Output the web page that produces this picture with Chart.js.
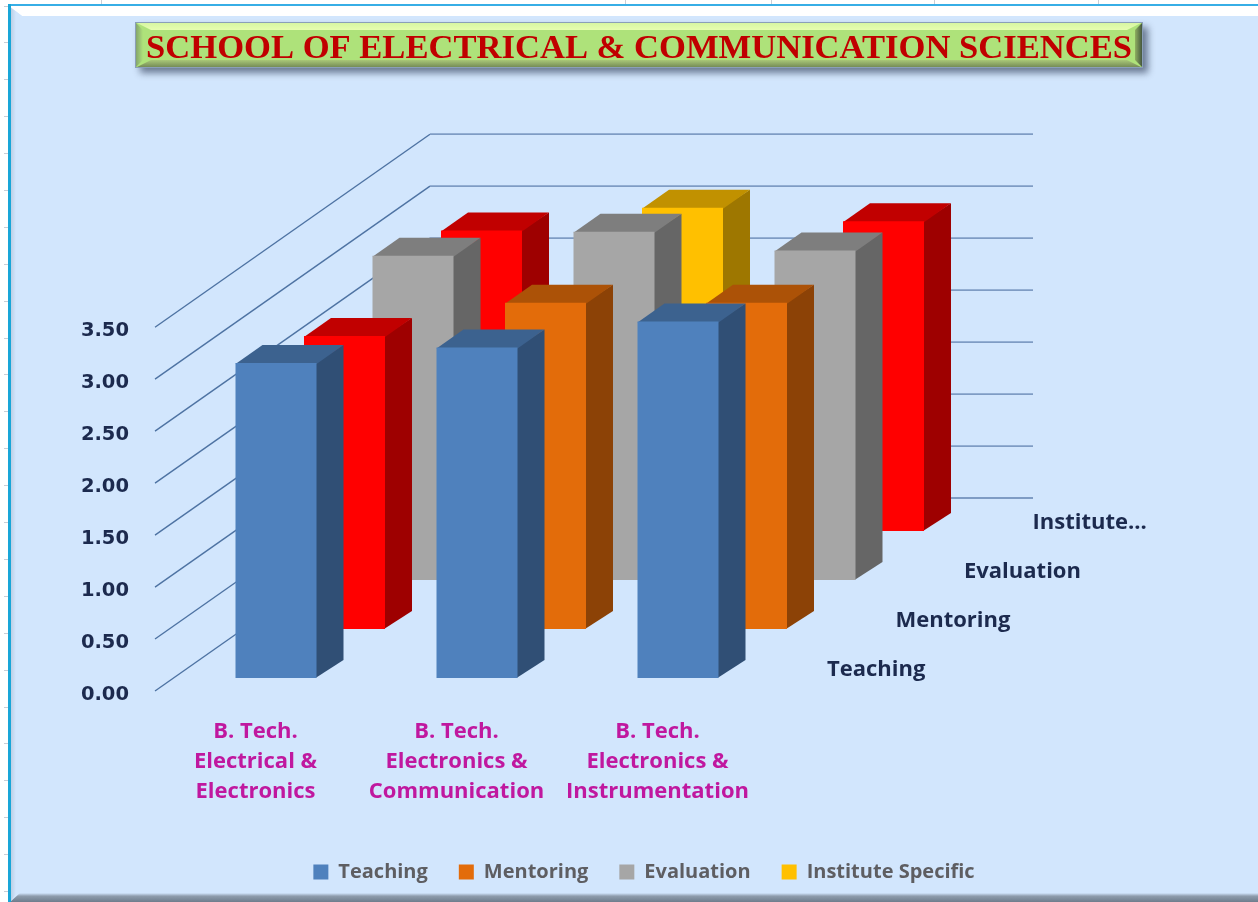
<!DOCTYPE html>
<html>
<head>
<meta charset="utf-8">
<style>html,body{margin:0;padding:0;background:#fff}canvas{display:block}</style>
<script src="https://cdn.jsdelivr.net/npm/chart.js@4/dist/chart.umd.min.js"></script>
</head>
<body>
<canvas id="c" width="1258" height="902"></canvas>
<script>
const chartTitle = 'SCHOOL OF ELECTRICAL & COMMUNICATION SCIENCES';
const categories = [['B. Tech.','Electrical &','Electronics'],['B. Tech.','Electronics &','Communication'],['B. Tech.','Electronics &','Instrumentation']];
const seriesNames = ['Teaching','Mentoring','Evaluation','Institute Specific'];
const depthLabels = ['Teaching','Mentoring','Evaluation','Institute...'];
const teaching   = [3.03,3.18,3.43];
const mentoring  = [2.82,3.14,3.14];
const evaluation = [3.12,3.35,3.17];
const institute  = [2.89,3.11,2.98];
const legendColors = ['#4F81BD','#E36C0A','#A6A6A6','#FFC000'];
const teachingColors   = ['#4F81BD','#4F81BD','#4F81BD'];
const mentoringColors  = ['#FF0000','#E36C0A','#E36C0A'];
const evaluationColors = ['#A6A6A6','#A6A6A6','#A6A6A6'];
const instituteColors  = ['#FF0000','#FFC000','#FF0000'];

const FLOOR = {frontX:20.5, frontY:-13, rowX:68.5, rowY:-49, faceX:27, faceY:-18, backX:275, backY:-193};
const axisInk = '#1C2A4E';

function shade(hex,f){
  const n=parseInt(hex.slice(1),16);
  return `rgb(${((n>>16)&255)*f|0},${((n>>8)&255)*f|0},${(n&255)*f|0})`;
}
function rowOffset(r){return [FLOOR.frontX+r*FLOOR.rowX, FLOOR.frontY+r*FLOOR.rowY];}

const decor = {
  id:'decor',
  afterLayout(chart){chart.legend.left+=5;chart.legend.right+=5;},
  beforeDraw(chart){
    const c=chart.ctx,W=chart.width,H=chart.height;
    c.save();
    c.fillStyle='#fff';c.fillRect(0,0,W,H);
    c.fillStyle='#C9CED6';
    for(const x of [101,625,771,934,1098])c.fillRect(x,0,1,4);
    for(let y=5.5;y<H;y+=36.9)c.fillRect(4,Math.round(y),4,1);
    c.fillStyle='#D2E6FD';c.fillRect(9,5,W-9,H-5);
    // top bevel
    c.fillStyle='#FFFFFF';
    c.beginPath();c.moveTo(9,6);c.lineTo(W,6);c.lineTo(W,16);c.lineTo(22,16);c.closePath();c.fill();
    // left bevel
    let g=c.createLinearGradient(10,0,16,0);g.addColorStop(0,'#B9CBE0');g.addColorStop(1,'#D2E6FD');
    c.fillStyle=g;c.beginPath();c.moveTo(10,7);c.lineTo(22,16);c.lineTo(16,H-8);c.lineTo(10,H);c.closePath();c.fill();
    // bottom bevel
    g=c.createLinearGradient(0,893,0,902);g.addColorStop(0,'#D2E6FD');g.addColorStop(0.35,'#8E9CAC');g.addColorStop(1,'#6E7C8C');
    c.fillStyle=g;c.beginPath();c.moveTo(10,902);c.lineTo(20,893);c.lineTo(W,893);c.lineTo(W,902);c.closePath();c.fill();
    // border
    c.fillStyle='#37AEE6';c.fillRect(8,4,W-8,2);
    c.fillStyle='#19A6D8';c.fillRect(8,4,3,H-4);
    // title plate
    const x=135,y=22,w=1008,h=46,b=8;
    c.save();c.shadowColor='rgba(50,65,90,.65)';c.shadowBlur=7;c.shadowOffsetX=5;c.shadowOffsetY=5;
    c.fillStyle='#AEE27A';c.fillRect(x,y,w,h);c.restore();
    c.fillStyle='#AEE27A';c.fillRect(x,y,w,h);
    const face=(pts,col)=>{c.fillStyle=col;c.beginPath();pts.forEach((p,i)=>i?c.lineTo(p[0],p[1]):c.moveTo(p[0],p[1]));c.closePath();c.fill();};
    g=c.createLinearGradient(0,y,0,y+b);g.addColorStop(0,'#D5F5A0');g.addColorStop(1,'#E6FDB0');
    face([[x,y],[x+w,y],[x+w-b*2,y+b],[x+b*2,y+b]],g);
    g=c.createLinearGradient(0,y+h-b,0,y+h);g.addColorStop(0,'#A9C878');g.addColorStop(1,'#6E8452');
    face([[x,y+h],[x+w,y+h],[x+w-b*2,y+h-b],[x+b*2,y+h-b]],g);
    g=c.createLinearGradient(x,0,x+b,0);g.addColorStop(0,'#7F9C6A');g.addColorStop(1,'#AEE27A');
    face([[x,y],[x+b,y+b],[x+b,y+h-b],[x,y+h]],g);
    g=c.createLinearGradient(x+w-b,0,x+w,0);g.addColorStop(0,'#8FAF60');g.addColorStop(1,'#3B4A3A');
    face([[x+w,y],[x+w-b,y+b],[x+w-b,y+h-b],[x+w,y+h]],g);
    c.strokeStyle='#8A9FB8';c.lineWidth=1;c.strokeRect(x+.5,y+.5,w-1,h-1);
    c.restore();
  },
  beforeDatasetsDraw(chart){
    const c=chart.ctx,{x:xs,y:ys}=chart.scales,L=xs.left,R=xs.right;
    c.save();
    ys.ticks.forEach(t=>{
      const p=ys.getPixelForValue(t.value);
      c.strokeStyle='#4E73A3';c.lineWidth=1.4;
      c.beginPath();c.moveTo(L,p);c.lineTo(L+FLOOR.backX,p+FLOOR.backY);c.stroke();
      c.strokeStyle='#7F9CC4';c.lineWidth=1.8;
      c.beginPath();c.moveTo(L+FLOOR.backX,p+FLOOR.backY);c.lineTo(R+FLOOR.backX,p+FLOOR.backY);c.stroke();
    });
    c.restore();
  },
  beforeDatasetDraw(chart,args){
    const c=chart.ctx,[ox,oy]=rowOffset(args.index);
    c.save();c.translate(ox,oy);
    const colors=chart.data.datasets[args.index].backgroundColor;
    const fx=FLOOR.faceX,fy=FLOOR.faceY;
    args.meta.data.forEach((el,i)=>{
      const r=el.x+el.width/2,l=el.x-el.width/2,t=el.y,b=el.base;
      c.fillStyle=shade(colors[i],0.62);
      c.beginPath();c.moveTo(r-1,t);c.lineTo(r+fx,t+fy);c.lineTo(r+fx,b+fy);c.lineTo(r-1,b);c.closePath();c.fill();
      c.fillStyle=shade(colors[i],0.76);
      c.beginPath();c.moveTo(l,t+1);c.lineTo(l+fx,t+fy);c.lineTo(r+fx,t+fy);c.lineTo(r,t+1);c.closePath();c.fill();
    });
  },
  afterDatasetDraw(chart){chart.ctx.restore();},
  afterDatasetsDraw(chart){
    const c=chart.ctx,xs=chart.scales.x,ys=chart.scales.y;
    c.save();
    c.font='bold 22px "Open Sans"';c.fillStyle=axisInk;c.textAlign='left';c.textBaseline='middle';
    depthLabels.forEach((s,i)=>{
      c.fillText(s,xs.right+69+i*FLOOR.rowX,ys.getPixelForValue(0)-21+i*FLOOR.rowY);
    });
    c.restore();
  }
};

new Chart(document.getElementById('c'),{
  type:'bar',
  plugins:[decor],
  data:{
    labels:categories,
    datasets:[
      {label:seriesNames[0],data:teaching,backgroundColor:teachingColors},
      {label:seriesNames[1],data:mentoring,backgroundColor:mentoringColors},
      {label:seriesNames[2],data:evaluation,backgroundColor:evaluationColors},
      {label:seriesNames[3],data:institute,backgroundColor:instituteColors}
    ].map(d=>Object.assign(d,{grouped:false,clip:false,barPercentage:1,categoryPercentage:0.403,borderWidth:0}))
  },
  options:{
    responsive:false,animation:false,
    layout:{padding:{left:20,right:0,top:0,bottom:10}},
    plugins:{
      tooltip:{enabled:false},
      title:{display:true,text:chartTitle,color:'#C00000',font:{family:'Liberation Serif',weight:'bold',size:34.6},padding:{top:28,bottom:257.7}},
      legend:{display:true,position:'bottom',labels:{
        boxWidth:15,boxHeight:15,padding:31,color:'#5E5E62',font:{family:'Open Sans',weight:'bold',size:20},
        generateLabels:()=>seriesNames.map((t,i)=>({text:t,fillStyle:legendColors[i],strokeStyle:legendColors[i],lineWidth:0,fontColor:'#5E5E62',datasetIndex:i}))
      }}
    },
    scales:{
      x:{
        grid:{display:false},border:{display:false},
        ticks:{color:'#C0189F',font:{family:'Open Sans',weight:'bold',size:22,lineHeight:1.36},padding:18,autoSkip:false,maxRotation:0,minRotation:0},
        afterFit(s){s.height=140;}
      },
      y:{
        min:0,max:3.5,
        grid:{display:false},border:{display:false},
        ticks:{stepSize:0.5,color:axisInk,font:{family:'DejaVu Sans',weight:'bold',size:19.5},padding:18,labelOffset:4,callback:v=>v.toFixed(2)},
        afterFit(s){s.width=135;}
      },
      spacer:{
        position:'right',min:0,max:1,grid:{display:false},border:{display:false},ticks:{display:false},
        afterFit(s){s.width=500;}
      }
    }
  }
});
</script>
</body>
</html>
